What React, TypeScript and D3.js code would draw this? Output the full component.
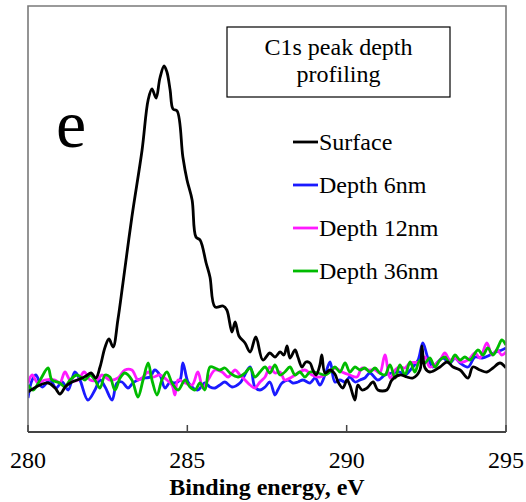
import React from "react";
import * as d3 from "d3";

const xTicks = [280, 285, 290, 295];
const xLabel = "Binding energy, eV";
const titleLines = ["C1s peak depth", "profiling"];
const panelLetter = "e";

const seriesNames = ["Surface", "Depth 6nm", "Depth 12nm", "Depth 36nm"];
const seriesColors = ["#000000", "#1a1aff", "#ff1aff", "#00bb00"];

const surfaceE = [280.00,280.31,280.63,280.85,281.00,281.19,281.38,281.63,281.82,281.98,282.13,282.26,282.42,282.54,282.67,282.82,282.98,283.26,283.58,283.77,283.89,284.02,284.14,284.27,284.36,284.46,284.55,284.68,284.86,284.99,285.15,285.27,285.40,285.59,285.71,285.87,286.12,286.24,286.40,286.50,286.62,286.81,286.97,287.15,287.37,287.59,287.75,287.91,288.03,288.13,288.22,288.38,288.47,288.60,288.72,288.85,288.94,289.04,289.16,289.22,289.32,289.48,289.63,289.73,289.88,290.01,290.10,290.26,290.35,290.48,290.64,290.83,290.98,291.26,291.42,291.67,291.89,292.08,292.30,292.36,292.46,292.61,292.93,293.15,293.34,293.56,293.81,293.96,294.18,294.40,294.59,294.81,295.00];
const surfaceI = [40,46,49,44,38,46,50,53,56,59,54,65,85,93,85,112,149,215,282,332,343,334,354,366,360,342,323,321,275,252,232,195,192,169,155,125,126,122,100,110,96,89,80,95,72,79,75,80,77,86,74,82,75,65,70,69,62,57,67,77,59,62,58,50,44,52,47,32,47,42,44,50,42,42,52,57,55,54,62,86,64,60,65,70,65,62,54,65,62,60,64,69,64];

const depth6E = [280.00,280.13,280.25,280.44,280.69,280.88,281.07,281.26,281.47,281.63,281.88,282.10,282.26,282.42,282.64,282.79,282.95,283.14,283.29,283.45,283.67,283.83,283.98,284.14,284.30,284.46,284.61,284.77,284.86,285.02,285.18,285.33,285.55,285.71,285.87,286.02,286.18,286.40,286.65,286.97,287.12,287.28,287.44,287.59,287.75,287.84,287.97,288.16,288.31,288.47,288.63,288.85,289.01,289.16,289.32,289.48,289.63,289.79,289.95,290.10,290.26,290.42,290.57,290.73,290.98,291.20,291.42,291.67,291.83,292.05,292.24,292.39,292.55,292.71,292.86,293.02,293.24,293.40,293.56,293.81,294.03,294.25,294.50,294.68,294.87,295.00];
const depth6I = [34,52,57,45,52,44,50,42,60,52,32,42,52,45,32,49,50,44,49,52,54,55,62,57,44,50,49,52,69,50,44,42,49,45,44,47,50,45,49,65,45,42,45,50,37,42,49,52,49,50,52,49,54,47,57,70,50,52,50,55,50,52,54,59,52,57,59,60,57,64,72,89,74,65,70,74,69,74,69,65,75,74,77,80,82,84];

const depth12E = [280.00,280.13,280.31,280.53,280.85,281.00,281.16,281.32,281.57,281.76,281.95,282.17,282.32,282.57,282.82,283.04,283.26,283.45,283.61,283.77,283.92,284.14,284.36,284.52,284.61,284.71,284.93,285.15,285.33,285.49,285.65,285.87,286.09,286.28,286.50,286.65,286.81,286.97,287.12,287.28,287.44,287.59,287.75,287.91,288.06,288.28,288.47,288.69,288.91,289.16,289.41,289.63,289.85,290.10,290.32,290.48,290.67,290.89,291.04,291.20,291.36,291.52,291.67,291.83,291.99,292.30,292.46,292.61,292.93,293.08,293.24,293.40,293.56,293.81,294.03,294.18,294.40,294.56,294.72,294.87,295.00];
const depth12I = [49,57,49,52,52,49,60,52,52,60,52,52,57,52,54,62,62,52,55,60,55,57,52,47,37,52,49,47,60,44,52,62,60,55,62,57,52,47,44,50,55,65,59,60,52,55,59,62,57,55,59,64,60,57,55,64,62,62,59,77,54,62,65,64,69,70,75,65,72,79,72,74,70,72,79,74,89,77,82,77,80];

const depth36E = [280.00,280.16,280.38,280.63,280.75,281.00,281.16,281.32,281.54,281.79,281.95,282.10,282.26,282.42,282.57,282.73,282.89,283.04,283.26,283.45,283.61,283.77,283.89,284.05,284.20,284.36,284.52,284.71,284.93,285.08,285.24,285.40,285.55,285.71,285.87,286.02,286.18,286.34,286.59,286.81,286.97,287.12,287.28,287.44,287.59,287.75,287.91,288.06,288.22,288.38,288.53,288.69,288.85,289.10,289.32,289.48,289.63,289.79,289.95,290.10,290.26,290.42,290.57,290.73,290.89,291.04,291.20,291.36,291.52,291.67,291.83,291.99,292.14,292.30,292.46,292.61,292.77,292.93,293.08,293.24,293.40,293.56,293.71,293.87,294.12,294.28,294.43,294.59,294.75,294.87,295.00];
const depth36I = [47,42,52,64,52,49,45,52,57,52,57,52,44,57,55,42,54,59,52,35,52,69,52,37,52,60,49,42,52,45,42,49,42,65,64,62,64,59,55,59,64,55,60,65,59,67,57,60,65,57,60,55,60,59,57,60,65,60,69,60,65,62,64,60,64,59,57,67,54,67,57,70,60,72,69,74,65,72,75,69,77,72,75,72,82,77,84,77,85,92,87];

const seriesE = [surfaceE, depth6E, depth12E, depth36E];
const seriesI = [surfaceI, depth6I, depth12I, depth36I];

const W = 526;
const H = 502;
const m = { left: 28, right: 506, top: 6, bottom: 432 };
const serif = "'Liberation Serif', 'Times New Roman', Times, serif";

export default function App() {
  const x = d3.scaleLinear().domain([280, 295]).range([m.left, m.right]);
  const y = d3.scaleLinear().domain([0, 426]).range([m.bottom, m.top]);
  const line = d3
    .line<[number, number]>()
    .x((d) => x(d[0]))
    .y((d) => y(d[1]))
    .curve(d3.curveCatmullRom.alpha(0.5));

  const legendY = [142, 185, 228, 271];

  return (
    <svg
      width={W}
      height={H}
      style={{ position: "absolute", left: 0, top: 0, background: "#fff" }}
      fontFamily={serif}
    >
      <rect x={0} y={0} width={W} height={H} fill="#fff" />
      <defs>
        <clipPath id="plotclip">
          <rect x={m.left} y={m.top} width={m.right - m.left} height={m.bottom - m.top} />
        </clipPath>
      </defs>
      <g clipPath="url(#plotclip)">
        {[1, 2, 3, 0].map((k) => {
          const pts = seriesE[k].map((e, i) => [e, seriesI[k][i]] as [number, number]);
          return (
            <path
              key={k}
              d={line(pts) || ""}
              fill="none"
              stroke={seriesColors[k]}
              strokeWidth={2.8}
              strokeLinejoin="round"
            />
          );
        })}
      </g>
      {/* frame */}
      <path
        d={`M${m.left},${m.bottom}V${m.top}H${m.right}V${m.bottom}`}
        fill="none"
        stroke="#7a7a7a"
        strokeWidth={1.6}
      />
      <line x1={m.left} x2={m.right} y1={m.bottom} y2={m.bottom} stroke="#444" strokeWidth={2} />
      {xTicks.map((t) => (
        <g key={t}>
          <line x1={x(t)} x2={x(t)} y1={m.bottom} y2={m.bottom - 7} stroke="#444" strokeWidth={1.5} />
          <text x={x(t)} y={468} fontSize={24} textAnchor="middle" fill="#000">
            {t}
          </text>
        </g>
      ))}
      <text x={267} y={495} fontSize={24} fontWeight="bold" textAnchor="middle" fill="#000">
        {xLabel}
      </text>
      <text x={56} y={147} fontSize={68} fill="#000">
        {panelLetter}
      </text>
      <rect x={227} y={27} width={223} height={70} fill="#fff" stroke="#000" strokeWidth={1.2} />
      {titleLines.map((t, i) => (
        <text key={t} x={338.5} y={55 + i * 27} fontSize={24} textAnchor="middle" fill="#000">
          {t}
        </text>
      ))}
      {seriesNames.map((n, i) => (
        <g key={n}>
          <line x1={293} x2={318} y1={legendY[i]} y2={legendY[i]} stroke={seriesColors[i]} strokeWidth={2.8} />
          <text x={319} y={legendY[i] + 8} fontSize={24} fill="#000">
            {n}
          </text>
        </g>
      ))}
    </svg>
  );
}
